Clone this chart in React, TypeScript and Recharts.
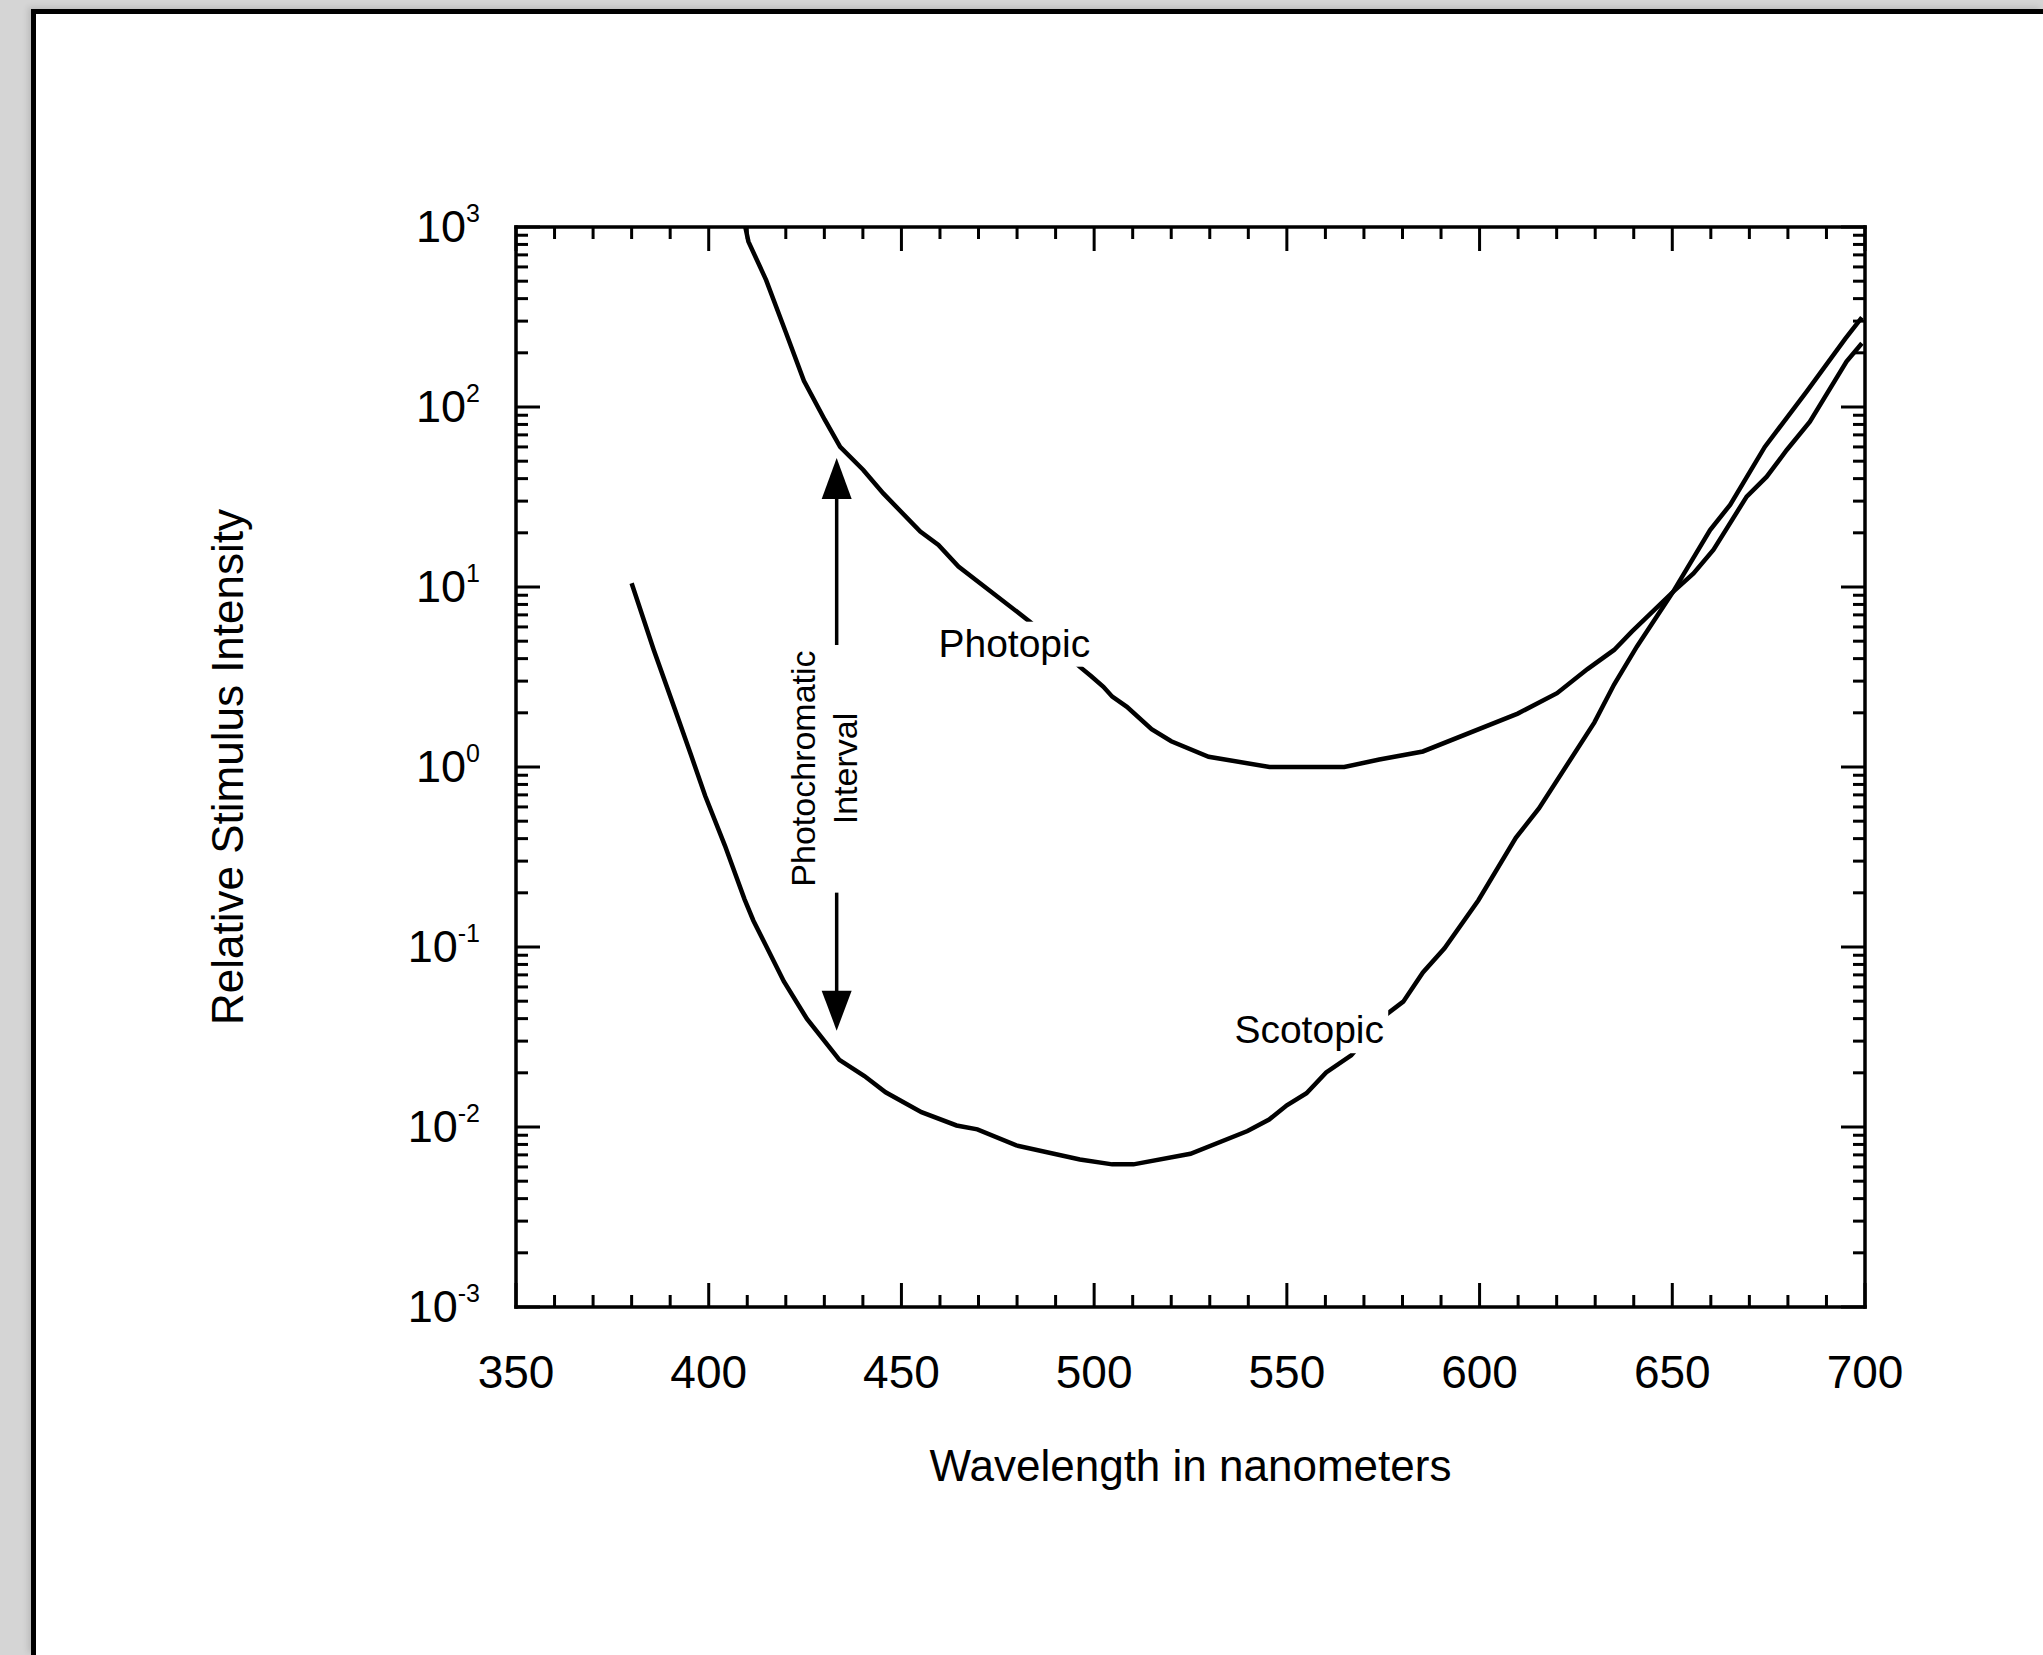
import React from "react";
import { LineChart, Line, XAxis, YAxis, ReferenceDot } from "recharts";

const FONT = '"Liberation Sans", Arial, Helvetica, sans-serif';

// wavelength (nm) and relative stimulus intensity along each curve
const photopicNm = [409.5, 410.3, 414.9, 420, 424.7, 430.1, 434.1, 440.1, 445.3, 454.9, 459.6, 464.8, 483.4, 496.3, 499.1, 502.4, 504.7, 508.5, 514.9, 520, 529.7, 545.5, 564.9, 574, 585.3, 609.9, 620.1, 628, 634.9, 639.5, 650.2, 655.5, 660.7, 669.3, 674.5, 679.7, 685.7, 695.2, 699.2];
const photopicIntensity = [1000, 830, 507, 260, 140, 85, 60, 44.7, 33.1, 20.3, 17.1, 13, 6.4, 3.6, 3.21, 2.79, 2.46, 2.16, 1.62, 1.39, 1.14, 1.0, 1.0, 1.1, 1.22, 1.98, 2.57, 3.5, 4.47, 5.65, 9.4, 11.9, 16.1, 31.8, 41, 57.7, 82.8, 179, 226];

const scotopicNm = [380, 385.7, 391.3, 395.5, 399.1, 404.2, 409.3, 411.6, 419.5, 425.5, 433.9, 440.4, 445.9, 455.2, 464.3, 469.7, 479.8, 496.3, 504.7, 510.2, 525, 539.8, 545.4, 550, 555.1, 560.2, 566.7, 576, 580.2, 585.3, 590.9, 599.7, 609.4, 615.4, 629.8, 634.9, 640.8, 650.2, 659.8, 665, 674, 684.9, 694.9, 699.2];
const scotopicIntensity = [10.5, 4.5, 2.07, 1.15, 0.69, 0.366, 0.184, 0.14, 0.0644, 0.0398, 0.0236, 0.0192, 0.0156, 0.0121, 0.0102, 0.0097, 0.0079, 0.0066, 0.0062, 0.0062, 0.0071, 0.0095, 0.011, 0.0132, 0.0154, 0.0201, 0.025, 0.0425, 0.0497, 0.0722, 0.0984, 0.182, 0.404, 0.588, 1.77, 2.87, 4.66, 9.4, 20.7, 28.6, 60, 122, 240, 315];

// axis ticks: labelled every 50 nm / every decade, minor marks in between
const xTicks = Array.from({ length: 36 }, (_, i) => 350 + i * 10);
const decades = [-3, -2, -1, 0, 1, 2];
const yTicks = [...decades.flatMap((e) => [1, 2, 3, 4, 5, 6, 7, 8, 9].map((k) => k * Math.pow(10, e))), 1000];

const photopic = photopicNm.map((nm, i) => ({ nm, v: photopicIntensity[i] }));
const scotopic = scotopicNm.map((nm, i) => ({ nm, v: scotopicIntensity[i] }));

const MAJOR = 24;
const MINOR = 12;

const isMajorX = (v: number) => v % 50 === 0;
const decadeOf = (v: number) => {
  const lg = Math.log10(v);
  const e = Math.round(lg);
  return Math.abs(lg - e) < 1e-6 ? e : null;
};

function BottomTick({ x, y, payload }: any) {
  const major = isMajorX(payload.value);
  return (
    <g>
      <line x1={x} x2={x} y1={y} y2={y - (major ? MAJOR : MINOR)} stroke="#000" strokeWidth={3} />
      {major && (
        <text x={x} y={y + 81} textAnchor="middle" fontSize={46} fontFamily={FONT} fill="#000">
          {payload.value}
        </text>
      )}
    </g>
  );
}

function TopTick({ x, y, payload }: any) {
  const major = isMajorX(payload.value);
  return <line x1={x} x2={x} y1={y} y2={y + (major ? MAJOR : MINOR)} stroke="#000" strokeWidth={3} />;
}

function LeftTick({ x, y, payload }: any) {
  const e = decadeOf(payload.value);
  return (
    <g>
      <line x1={x} x2={x + (e !== null ? MAJOR : MINOR)} y1={y} y2={y} stroke="#000" strokeWidth={3} />
      {e !== null && (
        <text x={x - 36} y={y + 15} textAnchor="end" fontSize={45} fontFamily={FONT} fill="#000">
          10
          <tspan dy={-20} fontSize={25}>
            {e}
          </tspan>
        </text>
      )}
    </g>
  );
}

function RightTick({ x, y, payload }: any) {
  const major = decadeOf(payload.value) !== null;
  return <line x1={x} x2={x - (major ? MAJOR : MINOR)} y1={y} y2={y} stroke="#000" strokeWidth={3} />;
}

// curve name on a white patch that interrupts the line
function CurveLabel({ cx, cy, text }: any) {
  return (
    <g>
      <rect x={cx - 79} y={cy - 35} width={158} height={45} fill="#fff" />
      <text x={cx} y={cy} textAnchor="middle" fontSize={39} fontFamily={FONT} fill="#000">
        {text}
      </text>
    </g>
  );
}

function ArrowUp({ cx, cy }: any) {
  return (
    <g>
      <polygon points={`${cx},${cy} ${cx - 15},${cy + 41} ${cx + 15},${cy + 41}`} fill="#000" />
      <line x1={cx} x2={cx} y1={cy + 40} y2={cy + 187} stroke="#000" strokeWidth={3.5} />
    </g>
  );
}

function ArrowDown({ cx, cy }: any) {
  return (
    <g>
      <polygon points={`${cx},${cy} ${cx - 15},${cy - 40} ${cx + 15},${cy - 40}`} fill="#000" />
      <line x1={cx} x2={cx} y1={cy - 39} y2={cy - 138} stroke="#000" strokeWidth={3.5} />
    </g>
  );
}

function IntervalText({ cx, cy }: any) {
  const a = cx - 22;
  const b = cx + 20;
  return (
    <g fontSize={34} fontFamily={FONT} fill="#000">
      <text x={a} y={cy} textAnchor="middle" transform={`rotate(-90 ${a} ${cy})`}>
        Photochromatic
      </text>
      <text x={b} y={cy} textAnchor="middle" transform={`rotate(-90 ${b} ${cy})`}>
        Interval
      </text>
    </g>
  );
}

const axisLine = { stroke: "#000", strokeWidth: 3.5, strokeLinecap: "square" as const };

export default function App() {
  return (
    <div style={{ position: "absolute", left: 0, top: 0, width: 2043, height: 1655, background: "#d5d5d5", overflow: "hidden" }}>
      <div
        style={{
          position: "absolute",
          left: 31,
          top: 9,
          right: 0,
          bottom: 0,
          background: "#fff",
          borderTop: "5px solid #000",
          borderLeft: "5px solid #000",
          boxShadow: "-3px -2px 6px rgba(0,0,0,0.12)",
        }}
      />
      <div style={{ position: "absolute", left: 0, top: 0 }}>
        {/* each axis takes 1px, so the plot box spans x 516–1865, y 227–1307 */}
        <LineChart width={2043} height={1655} margin={{ top: 226, right: 177, bottom: 347, left: 515 }}>
          <XAxis
            xAxisId="b"
            type="number"
            dataKey="nm"
            domain={[350, 700]}
            ticks={xTicks}
            interval={0}
            height={1}
            tickSize={0}
            tickMargin={0}
            tickLine={false}
            tick={<BottomTick />}
            axisLine={axisLine}
            allowDataOverflow
            label={({ viewBox }: any) => (
              <text
                x={viewBox.x + viewBox.width / 2}
                y={viewBox.y + 174}
                textAnchor="middle"
                fontSize={44}
                fontFamily={FONT}
                fill="#000"
              >
                Wavelength in nanometers
              </text>
            )}
          />
          <XAxis
            xAxisId="t"
            orientation="top"
            type="number"
            dataKey="nm"
            domain={[350, 700]}
            ticks={xTicks}
            interval={0}
            height={1}
            tickSize={0}
            tickMargin={0}
            tickLine={false}
            tick={<TopTick />}
            axisLine={axisLine}
            allowDataOverflow
          />
          <YAxis
            yAxisId="l"
            type="number"
            scale="log"
            domain={[0.001, 1000]}
            ticks={yTicks}
            interval={0}
            width={1}
            tickSize={0}
            tickMargin={0}
            tickLine={false}
            tick={<LeftTick />}
            axisLine={axisLine}
            allowDataOverflow
            label={({ viewBox }: any) => {
              const x = viewBox.x - 272;
              const y = viewBox.y + viewBox.height / 2;
              return (
                <text x={x} y={y} textAnchor="middle" fontSize={44} fontFamily={FONT} fill="#000" transform={`rotate(-90 ${x} ${y})`}>
                  Relative Stimulus Intensity
                </text>
              );
            }}
          />
          <YAxis
            yAxisId="r"
            orientation="right"
            type="number"
            scale="log"
            domain={[0.001, 1000]}
            ticks={yTicks}
            interval={0}
            width={1}
            tickSize={0}
            tickMargin={0}
            tickLine={false}
            tick={<RightTick />}
            axisLine={axisLine}
            allowDataOverflow
          />
          <Line
            xAxisId="b"
            yAxisId="l"
            data={photopic}
            dataKey="v"
            type="linear"
            stroke="#000"
            strokeWidth={4.5}
            dot={false}
            activeDot={false}
            isAnimationActive={false}
          />
          <Line
            xAxisId="b"
            yAxisId="l"
            data={scotopic}
            dataKey="v"
            type="linear"
            stroke="#000"
            strokeWidth={4.5}
            dot={false}
            activeDot={false}
            isAnimationActive={false}
          />
          <ReferenceDot xAxisId="b" yAxisId="l" x={479.3} y={4.1} r={0} zIndex={1000} shape={(p: any) => <CurveLabel cx={p.cx} cy={p.cy} text="Photopic" />} />
          <ReferenceDot xAxisId="b" yAxisId="l" x={555.8} y={0.0292} r={0} zIndex={1000} shape={(p: any) => <CurveLabel cx={p.cx} cy={p.cy} text="Scotopic" />} />
          <ReferenceDot xAxisId="b" yAxisId="l" x={433.2} y={52} r={0} zIndex={1000} shape={(p: any) => <ArrowUp cx={p.cx} cy={p.cy} />} />
          <ReferenceDot xAxisId="b" yAxisId="l" x={433.2} y={0.0343} r={0} zIndex={1000} shape={(p: any) => <ArrowDown cx={p.cx} cy={p.cy} />} />
          <ReferenceDot xAxisId="b" yAxisId="l" x={433.2} y={0.981} r={0} zIndex={1000} shape={(p: any) => <IntervalText cx={p.cx} cy={p.cy} />} />
        </LineChart>
      </div>
    </div>
  );
}
